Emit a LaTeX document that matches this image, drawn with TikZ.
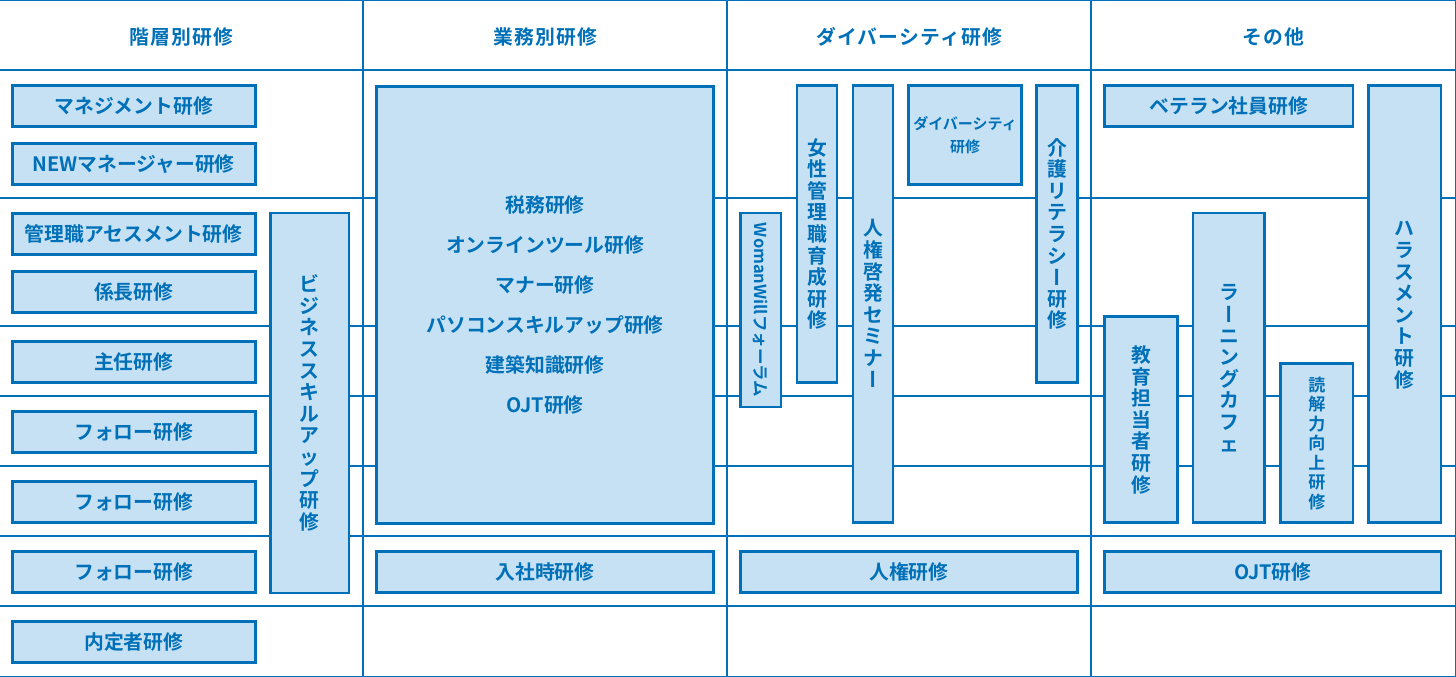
\documentclass[tikz,border=0pt]{standalone}
\usepackage{fontspec}
\setmainfont{Noto Sans CJK JP}[BoldFont={Noto Sans CJK JP Bold}]
\usepackage{graphicx}
\usepackage{xcolor}
\usepackage{tikz}
\usetikzlibrary{positioning}
\definecolor{kenblue}{HTML}{0070B8}
\definecolor{kenfill}{HTML}{C6E1F3}
\newcommand\coursefont{\bfseries\fontsize{19.8}{24}\selectfont}
\newcommand\headfont{\bfseries\fontsize{19.8}{24}\selectfont\addfontfeatures{LetterSpace=6}}
% vertical text, one character per line
\newlength\tatepitch
\def\tateend{\tateend}
\newcommand\tatestrut{\vrule height .88em depth .12em width 0pt}
\newcommand\tatetext[2][21.6pt]{\vbox{\offinterlineskip\tatepitch=#1\relax\tateloop#2\tateend}}
\def\tateloop#1{\ifx#1\tateend\else\tatechar{#1}\expandafter\tateloop\fi}
\newcommand\tatechar[1]{\hbox to 1.2em{\hss\vbox to\tatepitch{\vss\hbox{\ifx#1ー\rotatebox[origin=c]{-90}{\tatestrut ー}\else\tatestrut #1\fi}\vss}\hss}}
\tikzset{
grid/.style={
draw=kenblue,
line width=1.3pt
},
head/.style={
text=kenblue,
font=\headfont,
inner sep=0pt
},
course/.style={
draw=kenblue,
line width=2.6pt,
fill=kenfill,
text=kenblue,
align=center,
inner sep=0pt,
font=\coursefont
},
wh/.style 2 args={
minimum width=#1,
minimum height=#2
}
}

\begin{document}
\begin{tikzpicture}[x=1pt,y=-1pt]
\useasboundingbox (0,0) rectangle (1456,677);
% table lines
\foreach \y in {0.6,70,198,326,396,466,536,606,676.4}
\draw[grid](0,\y)--(1456,\y);
\foreach \x in {363,727,1091,1455.3}
\draw[grid](\x,0)--(\x,677);

% headers
\node[head](kaiso) at (181.5,37){階層別研修};
\node[head](gyomuh) at (545,37){業務別研修};
\node[head](divh) at (909,37){ダイバーシティ研修};
\node[head](sonota) at (1273,37){その他};

% first column
\foreach \n/\y/\t in {mane/106/マネジメント研修,newmane/164/NEWマネージャー研修,
kanri/234/管理職アセスメント研修,kakari/292/係長研修,shunin/362/主任研修,
follow1/432/フォロー研修,follow2/502/フォロー研修,follow3/572/フォロー研修,naitei/642/内定者研修}
\node[course,wh={243}{41.4}](\n) at (133.7,\y){\t};
\node[course,wh={78.4}{380}](biz) at (309.8,403){\tatetext{ビジネススキルアップ研修}};

% second column
\node[course,wh={337.4}{437.4},font=\bfseries\fontsize{19.8}{40}\selectfont](gyomu) at (545,305)
{税務研修\\オンラインツール研修\\マナー研修\\パソコンスキルアップ研修\\建築知識研修\\OJT研修};
\node[course,wh={337.4}{41.4}](nyusha) at (545,572){入社時研修};

% third column
\node[course,wh={194}{40.4},rotate=-90,font=\bfseries\fontsize{16.5}{20}\selectfont](woman) at (760.8,310){WomanWillフォーラム};
\node[course,wh={40}{297.4}](josei) at (817,234){\tatetext{女性管理職育成研修}};
\node[course,wh={40}{437.4}](seminar) at (873,304){\tatetext{人権啓発セミナー}};
\node[course,wh={112.8}{99.4},font=\bfseries\fontsize{15}{22.7}\selectfont](div) at (965,135){ダイバーシティ\\研修};
\node[course,wh={40.8}{297.4}](kaigo) at (1057,234){\tatetext{介護リテラシー研修}};
\node[course,wh={337.1}{41.4}](jinken) at (908.9,572){人権研修};

% fourth column
\node[course,wh={248.4}{41.4}](veteran) at (1228.8,106){ベテラン社員研修};
\node[course,wh={72.4}{437.4}](harass) at (1404.8,304){\tatetext{ハラスメント研修}};
\node[course,wh={71.7}{309.7}](learning) at (1228.9,367.9){\tatetext{ラーニングカフェ}};
\node[course,wh={72.8}{206.1}](kyoiku) at (1141,419.7){\tatetext{教育担当者研修}};
\node[course,wh={72.4}{159.1},font=\bfseries\fontsize{17}{20}\selectfont](dokkai) at (1316.8,443.2){\tatetext[19.5pt]{読解力向上研修}};
\node[course,wh={336.7}{41.4}](ojt) at (1272.7,572){OJT研修};
\end{tikzpicture}
\end{document}
